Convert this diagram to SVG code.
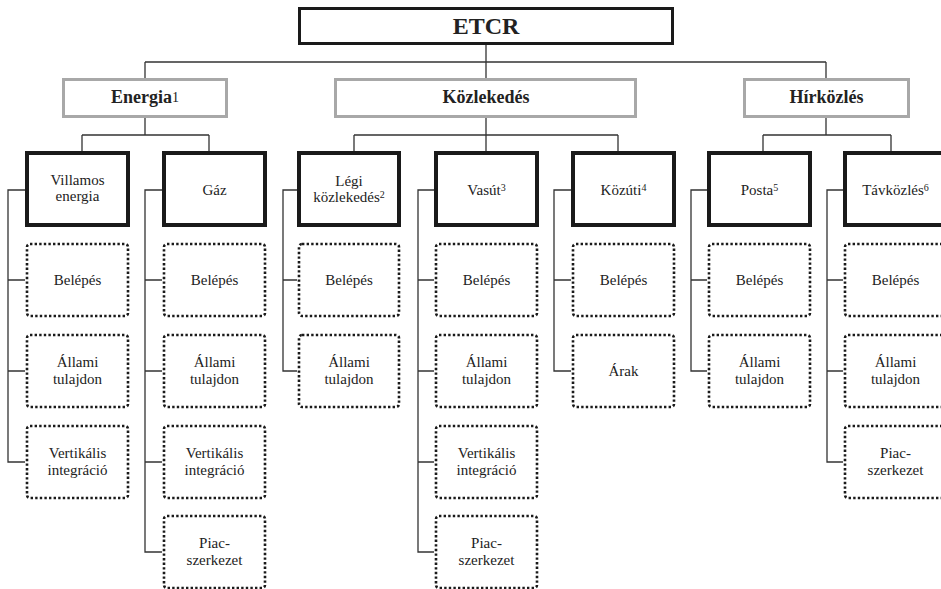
<svg xmlns="http://www.w3.org/2000/svg" width="941" height="589" viewBox="0 0 941 589">
<style>
text{font-family:"Liberation Serif","Times New Roman","DejaVu Serif",serif;fill:#222;text-anchor:middle}
.t{font-size:15px}
.h{font-size:18px;font-weight:bold}
.top{font-size:24px;font-weight:bold}
.sup{font-size:10px}
.thick{fill:#fff;stroke:#1a1a1a;stroke-width:4}
.grey{fill:#fff;stroke:#a8a8a8;stroke-width:3}
.etcr{fill:#fff;stroke:#1a1a1a;stroke-width:3}
.dot{fill:#fff;stroke:#1a1a1a;stroke-width:2.6;stroke-dasharray:2.4 2.2}
.c{fill:none;stroke:#333;stroke-width:1.3}
</style>
<g id="connectors">
<path class="c" d="M486 44V62M145 62H826M145 62V79M486 62V79M826 62V79"/>
<path class="c" d="M145 117V135M82 135H209M82 135V151M209 135V151"/>
<path class="c" d="M486 117V135M354 135H618M354 135V151M486 135V151M618 135V151"/>
<path class="c" d="M826 117V135M763 135H891M763 135V151M891 135V151"/>
<path class="c" d="M25 190H8V462H25M8 280H25M8 371H25"/>
<path class="c" d="M162 190H145V552H162M145 280H162M145 371H162M145 462H162"/>
<path class="c" d="M297 190H283V371H297M283 280H297"/>
<path class="c" d="M434 190H418V552H434M418 280H434M418 371H434M418 462H434"/>
<path class="c" d="M571 190H554V371H571M554 280H571"/>
<path class="c" d="M707 190H691V371H707M691 280H707"/>
<path class="c" d="M843 190H827V462H843M827 280H843M827 371H843"/>
</g>
<g id="etcr"><rect class="etcr" x="299.5" y="8.5" width="373" height="35"/><text class="top" x="486" y="34">ETCR</text></g>
<g id="energia"><rect class="grey" x="63.5" y="79.5" width="163" height="37"/><text class="h" x="145" y="103">Energia<tspan font-size="14" font-weight="normal" dy="-1.5">1</tspan></text></g>
<g id="kozlekedes"><rect class="grey" x="335.5" y="79.5" width="300" height="37"/><text class="h" x="486" y="103">Közlekedés</text></g>
<g id="hirkozles"><rect class="grey" x="744.5" y="79.5" width="164" height="37"/><text class="h" x="826.5" y="103">Hírközlés</text></g>

<g id="villamos"><rect class="thick" x="27" y="153" width="101" height="72"/><text class="t" x="77.5" y="185">Villamos</text><text class="t" x="77.5" y="201">energia</text></g>
<g id="gaz"><rect class="thick" x="164" y="153" width="101" height="72"/><text class="t" x="214.5" y="195">Gáz</text></g>
<g id="legi"><rect class="thick" x="299" y="153" width="100" height="72"/><text class="t" x="349" y="186">Légi</text><text class="t" x="349" y="202">közlekedés<tspan class="sup" dy="-4">2</tspan></text></g>
<g id="vasut"><rect class="thick" x="436" y="153" width="101" height="72"/><text class="t" x="486.5" y="195">Vasút<tspan class="sup" dy="-4">3</tspan></text></g>
<g id="kozuti"><rect class="thick" x="573" y="153" width="101" height="72"/><text class="t" x="623.5" y="195">Közúti<tspan class="sup" dy="-4">4</tspan></text></g>
<g id="posta"><rect class="thick" x="709" y="153" width="101" height="72"/><text class="t" x="759.5" y="195">Posta<tspan class="sup" dy="-4">5</tspan></text></g>
<g id="tavkozles"><rect class="thick" x="845" y="153" width="101" height="72"/><text class="t" x="895.5" y="195">Távközlés<tspan class="sup" dy="-4">6</tspan></text></g>

<g id="villamos-belepes"><rect class="dot" x="27" y="244" width="101" height="72" rx="3"/><text class="t" x="77.5" y="285">Belépés</text></g>
<g id="villamos-allami"><rect class="dot" x="27" y="335" width="101" height="72" rx="3"/><text class="t" x="77.5" y="367">Állami</text><text class="t" x="77.5" y="384">tulajdon</text></g>
<g id="villamos-vertikalis"><rect class="dot" x="27" y="426" width="101" height="72" rx="3"/><text class="t" x="77.5" y="458">Vertikális</text><text class="t" x="77.5" y="475">integráció</text></g>

<g id="gaz-belepes"><rect class="dot" x="164" y="244" width="101" height="72" rx="3"/><text class="t" x="214.5" y="285">Belépés</text></g>
<g id="gaz-allami"><rect class="dot" x="164" y="335" width="101" height="72" rx="3"/><text class="t" x="214.5" y="367">Állami</text><text class="t" x="214.5" y="384">tulajdon</text></g>
<g id="gaz-vertikalis"><rect class="dot" x="164" y="426" width="101" height="72" rx="3"/><text class="t" x="214.5" y="458">Vertikális</text><text class="t" x="214.5" y="475">integráció</text></g>
<g id="gaz-piac"><rect class="dot" x="164" y="516" width="101" height="72" rx="3"/><text class="t" x="214.5" y="548">Piac-</text><text class="t" x="214.5" y="565">szerkezet</text></g>

<g id="legi-belepes"><rect class="dot" x="299" y="244" width="100" height="72" rx="3"/><text class="t" x="349" y="285">Belépés</text></g>
<g id="legi-allami"><rect class="dot" x="299" y="335" width="100" height="72" rx="3"/><text class="t" x="349" y="367">Állami</text><text class="t" x="349" y="384">tulajdon</text></g>

<g id="vasut-belepes"><rect class="dot" x="436" y="244" width="101" height="72" rx="3"/><text class="t" x="486.5" y="285">Belépés</text></g>
<g id="vasut-allami"><rect class="dot" x="436" y="335" width="101" height="72" rx="3"/><text class="t" x="486.5" y="367">Állami</text><text class="t" x="486.5" y="384">tulajdon</text></g>
<g id="vasut-vertikalis"><rect class="dot" x="436" y="426" width="101" height="72" rx="3"/><text class="t" x="486.5" y="458">Vertikális</text><text class="t" x="486.5" y="475">integráció</text></g>
<g id="vasut-piac"><rect class="dot" x="436" y="516" width="101" height="72" rx="3"/><text class="t" x="486.5" y="548">Piac-</text><text class="t" x="486.5" y="565">szerkezet</text></g>

<g id="kozuti-belepes"><rect class="dot" x="573" y="244" width="101" height="72" rx="3"/><text class="t" x="623.5" y="285">Belépés</text></g>
<g id="kozuti-arak"><rect class="dot" x="573" y="335" width="101" height="72" rx="3"/><text class="t" x="623.5" y="376">Árak</text></g>

<g id="posta-belepes"><rect class="dot" x="709" y="244" width="101" height="72" rx="3"/><text class="t" x="759.5" y="285">Belépés</text></g>
<g id="posta-allami"><rect class="dot" x="709" y="335" width="101" height="72" rx="3"/><text class="t" x="759.5" y="367">Állami</text><text class="t" x="759.5" y="384">tulajdon</text></g>

<g id="tav-belepes"><rect class="dot" x="845" y="244" width="101" height="72" rx="3"/><text class="t" x="895.5" y="285">Belépés</text></g>
<g id="tav-allami"><rect class="dot" x="845" y="335" width="101" height="72" rx="3"/><text class="t" x="895.5" y="367">Állami</text><text class="t" x="895.5" y="384">tulajdon</text></g>
<g id="tav-piac"><rect class="dot" x="845" y="426" width="101" height="72" rx="3"/><text class="t" x="895.5" y="458">Piac-</text><text class="t" x="895.5" y="475">szerkezet</text></g>
</svg>
